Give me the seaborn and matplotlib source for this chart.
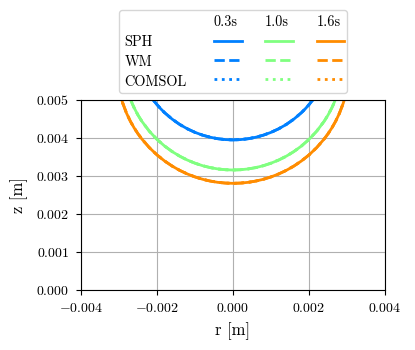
import matplotlib
matplotlib.use("Agg")
import matplotlib.pyplot as plt
import seaborn as sns
import pandas as pd
import numpy as np
from matplotlib.lines import Line2D
from matplotlib.offsetbox import AnchoredOffsetbox, DrawingArea, HPacker, TextArea, VPacker

plt.rcParams["font.family"] = "serif"
plt.rcParams["font.serif"] = ["cmr10"]
plt.rcParams["mathtext.fontset"] = "cm"
plt.rcParams["axes.formatter.use_mathtext"] = True
plt.rcParams["font.size"] = 10
plt.rcParams["xtick.major.pad"] = 5
plt.rcParams["ytick.major.pad"] = 5

# droplet profile, right half (r in mm-ish units *1e-3), mirrored below
times = ["0.3s", "1.0s", "1.6s"]
methods = ["SPH", "WM", "COMSOL"]
colors = ["#0080ff", "#80ff80", "#ff8c00"]

r_03 = [0.0, 0.2, 0.4, 0.6, 0.8, 1.0, 1.2, 1.4, 1.6, 1.8, 1.9, 2.0, 2.05, 2.1]
z_03 = [3.950, 3.958, 3.981, 4.020, 4.075, 4.148, 4.241, 4.355, 4.495, 4.666,
        4.766, 4.878, 4.939, 5.003]

r_10 = [0.0, 0.2, 0.4, 0.6, 0.8, 1.0, 1.2, 1.4, 1.6, 1.8, 2.0, 2.2, 2.4, 2.5,
        2.6, 2.65, 2.7]
z_10 = [3.158, 3.165, 3.186, 3.221, 3.271, 3.337, 3.419, 3.520, 3.642, 3.788,
        3.963, 4.176, 4.441, 4.602, 4.791, 4.901, 5.025]

r_16 = [0.0, 0.2, 0.4, 0.6, 0.8, 1.0, 1.2, 1.4, 1.6, 1.8, 2.0, 2.2, 2.4, 2.5,
        2.6, 2.7, 2.8, 2.9, 2.95, 3.0]
z_16 = [2.807, 2.814, 2.833, 2.867, 2.914, 2.976, 3.053, 3.147, 3.260, 3.395,
        3.554, 3.745, 3.975, 4.110, 4.263, 4.438, 4.648, 4.912, 5.082, 5.307]

profiles = {"0.3s": (r_03, z_03), "1.0s": (r_10, z_10), "1.6s": (r_16, z_16)}

rows = []
for t in times:
    rh, zh = profiles[t]
    rh = np.array(rh) * 1e-3
    zh = np.array(zh) * 1e-3
    r = np.concatenate([-rh[::-1], rh[1:]])
    z = np.concatenate([zh[::-1], zh[1:]])
    for m in methods:
        rows.append(pd.DataFrame({"r": r, "z": z, "time": t, "method": m}))
df = pd.concat(rows, ignore_index=True)

dash_map = {"SPH": "", "WM": (3.7, 1.6), "COMSOL": (1, 1.65)}

fig = plt.figure(figsize=(4.15, 3.5), dpi=100)
ax = fig.add_axes([0.1952, 0.1714, 0.7325, 0.5429])
sns.lineplot(
    data=df,
    x="r",
    y="z",
    hue="time",
    hue_order=times,
    style="method",
    style_order=methods,
    palette=colors,
    dashes=dash_map,
    estimator=None,
    sort=False,
    legend=False,
    lw=2,
    ax=ax,
)
ax.set_xlim(-0.004, 0.004)
ax.set_ylim(0, 0.005)
ax.set_xticks([-0.004, -0.002, 0.0, 0.002, 0.004])
ax.set_yticks([0.0, 0.001, 0.002, 0.003, 0.004, 0.005])
ax.grid(True)
ax.set_xlabel("r [m]", fontsize=12, labelpad=5.5)
ax.set_ylabel("z [m]", fontsize=12, labelpad=6)

# table-like legend: row = method, column = time
leg_fs = 10.3
text_h = 9.15
row_sep = 4.5


def sample(color, dashes):
    da = DrawingArea(20, text_h, 0, 0)
    ln = Line2D([0, 20], [5.4, 5.4], color=color, lw=2)
    if dashes:
        ln.set_dashes(dashes)
    da.add_artist(ln)
    return da


def label(s):
    return TextArea(s, textprops=dict(size=leg_fs))


col0 = VPacker(children=[label("")] + [label(m) for m in methods],
               align="left", pad=0, sep=row_sep)
cols = []
for t, c in zip(times, colors):
    cols.append(VPacker(children=[label(t)] + [sample(c, dash_map[m]) for m in methods],
                        align="left", pad=0, sep=row_sep))
table = HPacker(children=[col0, HPacker(children=cols, pad=0, sep=17.0)],
                pad=0, sep=19.5, align="top")
inner = HPacker(children=[DrawingArea(0, 0), table], pad=0, sep=2, align="top")
outer = VPacker(children=[DrawingArea(0, 2.0), inner, DrawingArea(0, 0.7)],
                pad=0, sep=0, align="left")
box = AnchoredOffsetbox(loc="lower center", child=outer, pad=0.2, borderpad=0.5,
                        frameon=True, bbox_to_anchor=(0.5, 1.0),
                        bbox_transform=ax.transAxes, prop=dict(size=10))
box.patch.set_boxstyle("round,pad=0,rounding_size=0.2")
box.patch.set_edgecolor("0.8")
box.patch.set_facecolor("white")
box.patch.set_alpha(0.8)
ax.add_artist(box)

fig.savefig("out.png", dpi=100)
